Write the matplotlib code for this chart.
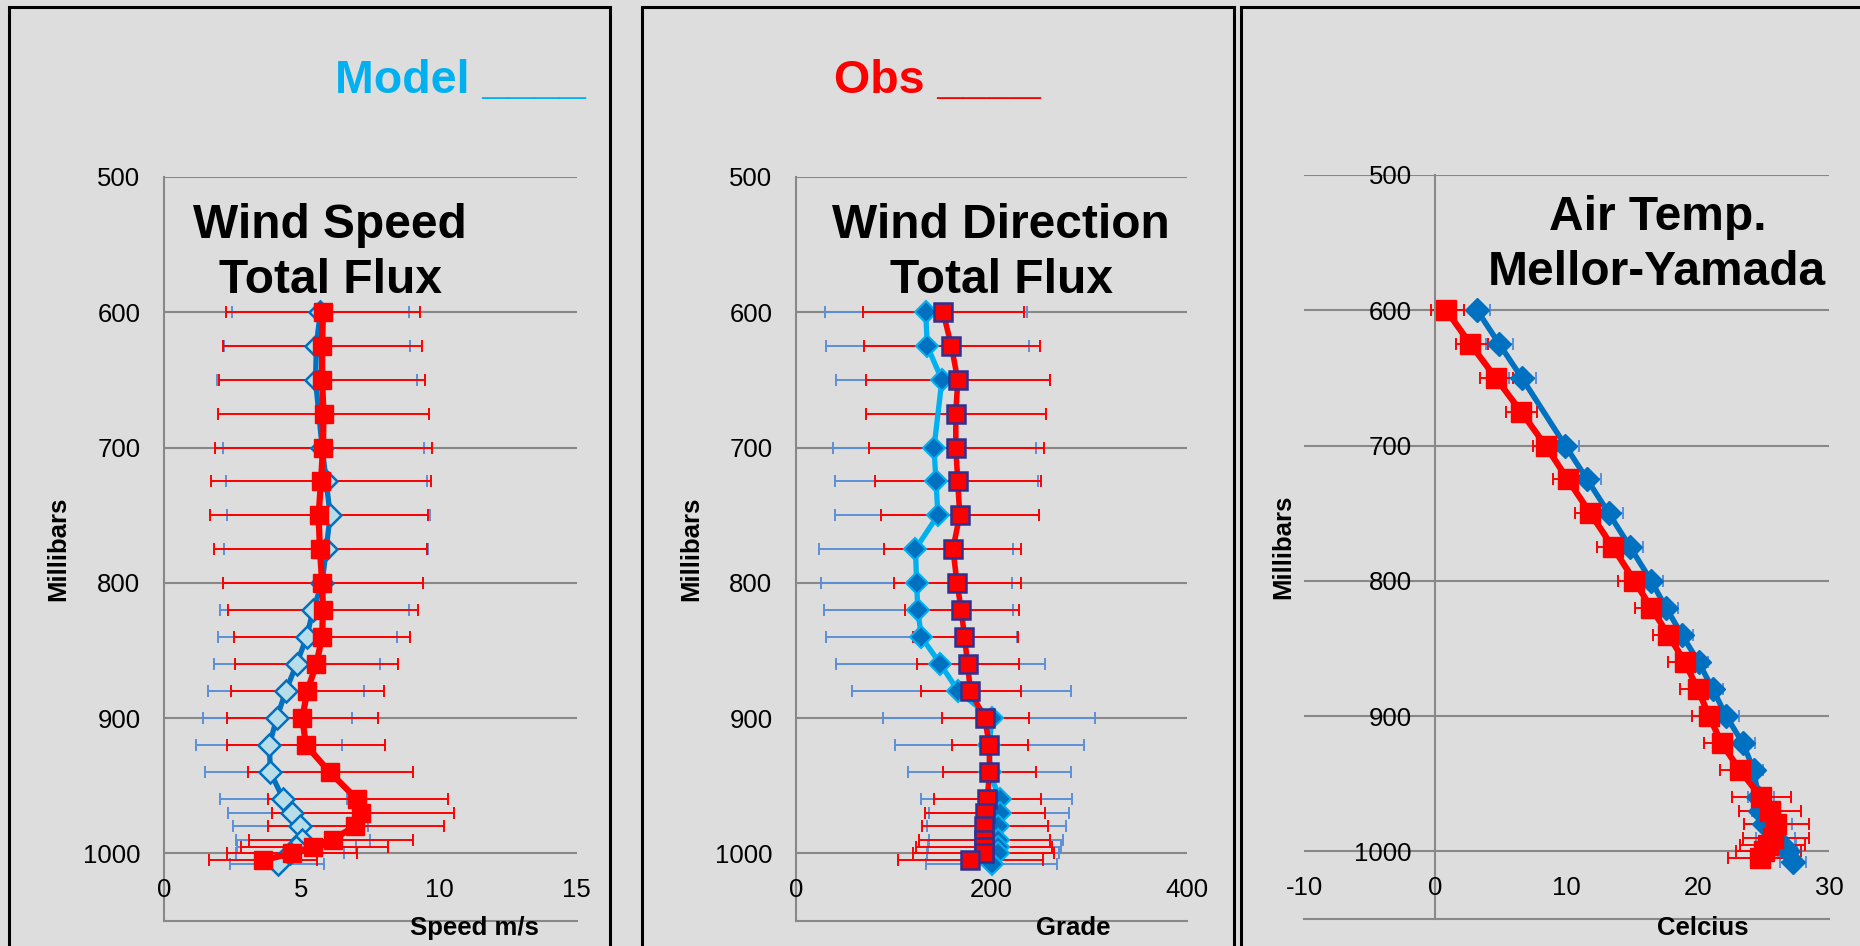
import numpy as np
import matplotlib
matplotlib.use('Agg')
import matplotlib.pyplot as plt
from matplotlib.patches import Rectangle

plt.rcParams['font.family'] = ['Liberation Sans', 'DejaVu Sans']

# pressure levels (mb)
p_obs = [600, 625, 650, 675, 700, 725, 750, 775, 800, 820, 840, 860, 880,
         900, 920, 940, 960, 970, 980, 990, 995, 1000, 1005]
p_mod = [600, 625, 650, 700, 725, 750, 775, 800, 820, 840, 860, 880,
         900, 920, 940, 960, 970, 980, 990, 995, 1000, 1008]

# wind speed (m/s)
obs_spd = [5.78, 5.75, 5.75, 5.80, 5.78, 5.71, 5.62, 5.67, 5.75, 5.78, 5.75, 5.54,
           5.21, 5.03, 5.16, 6.03, 7.02, 7.15, 6.93, 6.13, 5.43, 4.64, 3.61]
obs_spd_lo = [2.27, 2.16, 2.01, 1.96, 1.84, 1.70, 1.67, 1.81, 2.13, 2.34, 2.56, 2.59,
              2.45, 2.30, 2.30, 3.05, 3.78, 3.91, 3.78, 3.10, 2.80, 2.30, 1.64]
obs_spd_hi = [9.31, 9.38, 9.49, 9.65, 9.75, 9.71, 9.61, 9.55, 9.41, 9.25, 8.95, 8.50,
              8.00, 7.77, 8.05, 9.06, 10.31, 10.53, 10.17, 9.06, 8.15, 7.00, 5.55]
mod_spd = [5.68, 5.54, 5.51, 5.75, 5.90, 6.04, 5.90, 5.75, 5.42, 5.19, 4.82,
           4.43, 4.10, 3.83, 3.87, 4.34, 4.67, 4.96, 5.02, 4.80, 4.57, 4.16]
mod_spd_lo = [2.49, 2.17, 1.94, 2.13, 2.24, 2.30, 2.19, 2.13, 2.04, 1.96, 1.81,
              1.61, 1.40, 1.17, 1.48, 2.03, 2.33, 2.52, 2.62, 2.66, 2.60, 2.40]
mod_spd_hi = [8.92, 8.96, 9.20, 9.45, 9.56, 9.68, 9.60, 9.40, 8.92, 8.49, 7.87,
              7.26, 6.83, 6.49, 6.26, 6.65, 7.01, 7.41, 7.48, 6.98, 6.54, 5.80]

# wind direction (deg)
obs_dir = [150.6, 159.1, 165.6, 163.6, 163.6, 165.6, 167.6, 160.7, 164.8, 169.2, 172.5, 175.7,
           178.5, 193.1, 198.0, 198.0, 195.9, 193.1, 192.7, 192.7, 192.5, 192.3, 178.5]
obs_dir_lo = [68.4, 69.2, 72.1, 71.7, 74.5, 80.6, 86.6, 89.9, 100.4, 111.3, 119.4, 123.9,
              127.9, 149.8, 159.5, 150.6, 141.3, 132.0, 128.7, 125.5, 122.7, 119.8, 104.9]
obs_dir_hi = [233.6, 249.4, 259.9, 255.9, 253.4, 251.0, 249.0, 230.8, 230.0, 227.9, 227.1, 227.9,
              230.8, 238.1, 237.2, 245.3, 251.0, 254.7, 257.5, 260.3, 262.3, 264.0, 253.0]
mod_dir = [132.8, 134.4, 149.4, 141.3, 143.3, 145.3, 122.3, 123.5, 124.7, 128.3, 147.8,
           166.0, 200.4, 198.0, 198.5, 208.5, 208.5, 207.3, 207.3, 207.0, 206.5, 200.4]
mod_dir_lo = [30.0, 31.2, 40.9, 37.7, 40.1, 40.1, 23.5, 25.5, 28.3, 30.4, 40.9,
              57.5, 88.7, 101.2, 115.0, 127.5, 136.0, 134.4, 136.4, 135.6, 134.4, 133.6]
mod_dir_hi = [236.8, 238.9, 259.9, 245.7, 247.4, 249.0, 222.3, 221.5, 222.3, 226.7, 254.7,
              281.4, 306.5, 295.1, 281.4, 282.2, 279.4, 276.9, 273.7, 271.3, 269.2, 267.2]

# air temperature (C)
obs_t = [0.84, 2.68, 4.61, 6.54, 8.40, 10.09, 11.81, 13.52, 15.18, 16.45, 17.77, 19.01,
         20.00, 20.87, 21.81, 23.22, 24.82, 25.48, 25.93, 25.72, 25.33, 25.03, 24.73]
obs_t_lo = [-0.30, 1.57, 3.40, 5.36, 7.44, 8.95, 10.63, 12.35, 13.95, 15.24, 16.60, 17.74,
            18.64, 19.55, 20.51, 21.66, 22.62, 23.13, 23.52, 23.43, 23.22, 22.92, 22.32]
obs_t_hi = [2.17, 4.04, 5.90, 7.77, 9.37, 11.23, 12.92, 14.52, 16.05, 17.20, 18.90, 20.06,
            21.27, 22.17, 23.13, 24.58, 27.14, 27.89, 28.49, 28.49, 28.19, 27.89, 26.99]
mod_t = [3.19, 4.88, 6.60, 9.91, 11.57, 13.22, 14.85, 16.45, 17.59, 18.80, 20.06,
         21.14, 22.17, 23.43, 24.28, 24.60, 24.73, 25.03, 25.93, 26.40, 26.84, 27.29]
mod_t_lo = [2.2, 3.9, 5.6, 8.9, 10.5, 12.2, 13.9, 15.5, 16.7, 18.0, 19.4,
            20.4, 21.2, 22.5, 23.6, 23.8, 24.1, 23.5, 24.4, 25.3, 26.1, 26.3]
mod_t_hi = [4.16, 5.90, 7.65, 10.93, 12.62, 14.28, 15.84, 17.35, 18.49, 19.61, 20.75,
            21.93, 23.13, 24.37, 24.94, 25.78, 25.90, 27.20, 27.44, 27.50, 27.59, 28.25]

W, H = 1860, 946
BG = '#DDDDDD'
GRID = '#888888'
RED = '#FF0000'
BAR_BLUE = '#5B8FD8'


def fx(x):
    return x / W


def fy(y):
    return 1 - y / H


def errbars(ax, x, p, lo, hi, color):
    x, lo, hi = np.array(x), np.array(lo), np.array(hi)
    ax.errorbar(x, p, xerr=[x - lo, hi - x], fmt='none', ecolor=color,
                elinewidth=1.4, capsize=4.5, capthick=1.4, zorder=2)


def setup(ax, xlim, xticks):
    ax.set_facecolor(BG)
    ax.set_xlim(xlim)
    ax.set_ylim(1050, 500)
    ax.set_yticks(range(500, 1001, 100))
    ax.set_xticks([])
    ax.tick_params(axis='y', length=0, pad=17, labelsize=18.5)
    ax.grid(axis='y', color=GRID, lw=1.5)
    ax.set_axisbelow(True)
    for s in ['top', 'right']:
        ax.spines[s].set_visible(False)
    for s in ['left', 'bottom']:
        ax.spines[s].set_color(GRID)
        ax.spines[s].set_linewidth(1.5)
    for v in xticks:
        ax.text(v, 1027, str(v), ha='center', va='center', fontsize=18.5)


fig = plt.figure(figsize=(W / 100, H / 100), dpi=100, facecolor=BG)

# panel frames
for x0, x1 in [(9, 610), (642, 1234), (1241, 1900)]:
    fig.add_artist(Rectangle((fx(x0), fy(1000)), (x1 - x0) / W, (1000 - 7) / H,
                             transform=fig.transFigure, fill=False,
                             ec='black', lw=2.2))

ax1 = fig.add_axes([fx(164), fy(921), (576.5 - 164) / W, 744 / H])
ax2 = fig.add_axes([fx(796), fy(921), (1186.7 - 796) / W, 744 / H])
ax3 = fig.add_axes([fx(1304), fy(919), (1829 - 1304) / W, 744 / H])

# wind speed
setup(ax1, (0, 15), [0, 5, 10, 15])
errbars(ax1, mod_spd, p_mod, mod_spd_lo, mod_spd_hi, BAR_BLUE)
errbars(ax1, obs_spd, p_obs, obs_spd_lo, obs_spd_hi, RED)
ax1.plot(mod_spd, p_mod, color='#0070C0', lw=3.8, marker='D', ms=11,
         mfc='#B7DEE8', mec='#0070C0', mew=1.8, zorder=3)
ax1.plot(obs_spd, p_obs, color=RED, lw=4.5, marker='s', ms=13.5,
         mfc=RED, mec=RED, zorder=4)

# wind direction
setup(ax2, (0, 400), [0, 200, 400])
errbars(ax2, mod_dir, p_mod, mod_dir_lo, mod_dir_hi, BAR_BLUE)
errbars(ax2, obs_dir, p_obs, obs_dir_lo, obs_dir_hi, RED)
ax2.plot(mod_dir, p_mod, color='#00B0F0', lw=3.8, marker='D', ms=11,
         mfc='#0070C0', mec='#00B0F0', mew=1.5, zorder=3)
ax2.plot(obs_dir, p_obs, color=RED, lw=4, marker='s', ms=13,
         mfc=RED, mec='#2E3192', mew=1.8, zorder=4)

# air temperature
setup(ax3, (-10, 30), [-10, 0, 10, 20, 30])
ax3.spines['left'].set_position(('data', 0))
errbars(ax3, mod_t, p_mod, mod_t_lo, mod_t_hi, BAR_BLUE)
errbars(ax3, obs_t, p_obs, obs_t_lo, obs_t_hi, RED)
ax3.plot(mod_t, p_mod, color='#0070C0', lw=4, marker='D', ms=12,
         mfc='#0070C0', mec='#0070C0', zorder=3)
ax3.plot(obs_t, p_obs, color=RED, lw=4.5, marker='s', ms=14.5,
         mfc=RED, mec=RED, zorder=4)

# texts
fig.text(fx(335), fy(93), 'Model ____', color='#00B0F0', fontsize=33.5,
         weight='bold', ha='left', va='baseline')
fig.text(fx(834), fy(93), 'Obs ____', color=RED, fontsize=33.5,
         weight='bold', ha='left', va='baseline')

titles = [(330, 238, 'Wind Speed'), (330, 293, 'Total Flux'),
          (1001, 238, 'Wind Direction'), (1001, 293, 'Total Flux'),
          (1658, 230, 'Air Temp.'), (1657, 285, 'Mellor-Yamada')]
for x, y, s in titles:
    fig.text(fx(x), fy(y), s, fontsize=34.5, weight='bold',
             ha='center', va='baseline')

for x, y in [(58.5, 549), (691, 549), (1283.5, 547)]:
    fig.text(fx(x), fy(y), 'Millibars', rotation=90, fontsize=18.5,
             weight='bold', ha='center', va='center')

for x, s in [(474.5, 'Speed m/s'), (1073, 'Grade'), (1702.6, 'Celcius')]:
    fig.text(fx(x), fy(928), s, fontsize=18.5, weight='bold',
             ha='center', va='center')

fig.savefig('out.png', dpi=100, facecolor=BG)
